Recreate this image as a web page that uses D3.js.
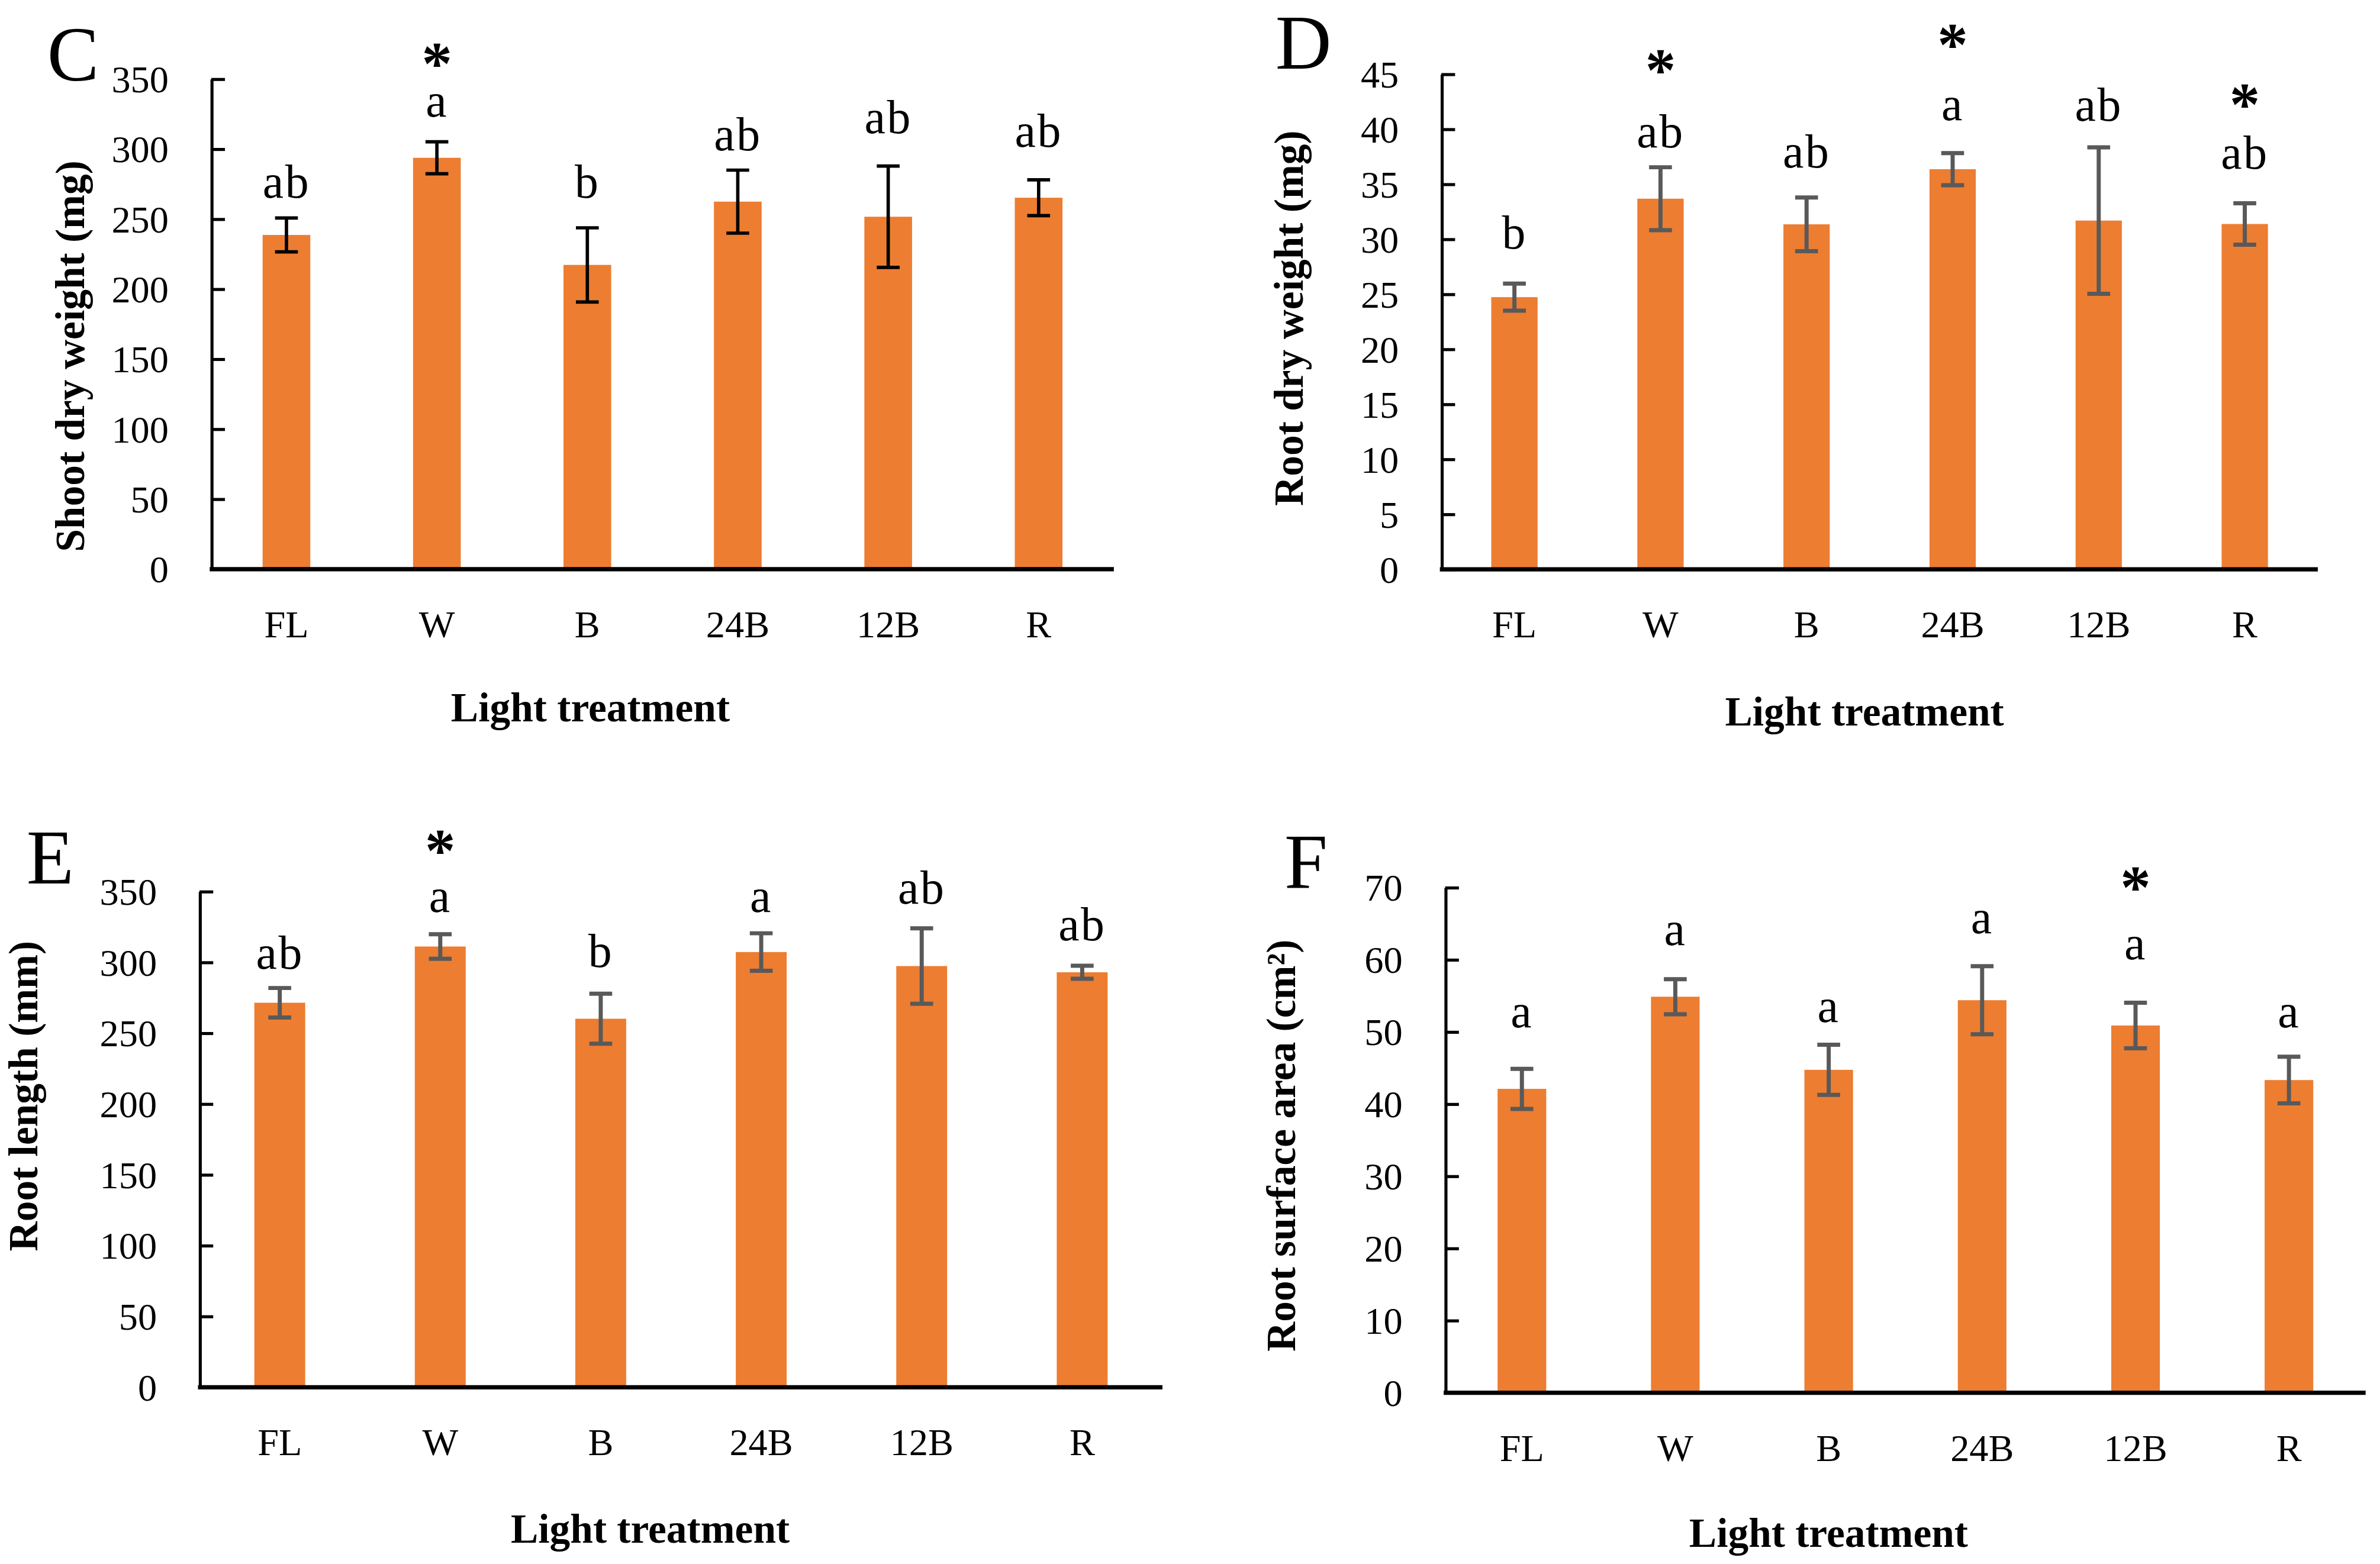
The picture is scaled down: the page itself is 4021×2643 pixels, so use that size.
<!DOCTYPE html>
<html>
<head>
<meta charset="utf-8">
<script src="https://cdn.jsdelivr.net/npm/d3@7"></script>
<style>
  body { margin: 0; background: #fff; }
  svg { display: block; }
</style>
</head>
<body>
<div id="chart"></div>
<script>
// categories shared by all four panels
var categories = ["FL", "W", "B", "24B", "12B", "R"];

// C - shoot dry weight (mg)
var shootMean = [238.4, 293.5, 217.0, 262.2, 251.4, 265.0];
var shootErr = [12.1, 11.4, 26.5, 22.5, 36.2, 12.8];
var shootLetters = ["ab", "a", "b", "ab", "ab", "ab"];
var shootLetterAt = [265, 323, 265, 299, 311, 301.6];
var shootStarAt = [null, 367, null, null, null, null];
var shootTicks = [0, 50, 100, 150, 200, 250, 300, 350];

// D - root dry weight (mg)
var rootDwMean = [24.7, 33.65, 31.32, 36.33, 31.66, 31.35];
var rootDwErr = [1.23, 2.86, 2.44, 1.46, 6.66, 1.88];
var rootDwLetters = ["b", "ab", "ab", "a", "ab", "ab"];
var rootDwLetterAt = [29.1, 38.3, 36.5, 40.8, 40.75, 36.4];
var rootDwStarAt = [null, 46.1, null, 48.4, null, 43.0];
var rootDwTicks = [0, 5, 10, 15, 20, 25, 30, 35, 40, 45];

// E - root length (mm)
var rootLenMean = [271.2, 310.9, 259.9, 307.0, 297.1, 292.7];
var rootLenErr = [10.4, 8.65, 17.65, 13.25, 26.65, 4.6];
var rootLenLetters = ["ab", "a", "b", "a", "ab", "ab"];
var rootLenLetterAt = [295.2, 335.2, 296.3, 335.2, 341.2, 315.3];
var rootLenStarAt = [null, 384.6, null, null, null, null];
var rootLenTicks = [0, 50, 100, 150, 200, 250, 300, 350];

// F - root surface area (cm2)
var rootSaMean = [42.05, 54.82, 44.69, 54.34, 50.83, 43.27];
var rootSaErr = [2.78, 2.43, 3.47, 4.72, 3.16, 3.23];
var rootSaLetters = ["a", "a", "a", "a", "a", "a"];
var rootSaLetterAt = [50.6, 62, 51.3, 63.6, 60, 50.6];
var rootSaStarAt = [null, null, null, null, 71.2, null];
var rootSaTicks = [0, 10, 20, 30, 40, 50, 60, 70];

var font = "'Liberation Serif', 'Times New Roman', serif";
var barColour = "#ED7D31";

// layout (in 1563-wide units, scaled up by the viewBox)
var panels = [
    { tag: "C", title: "Shoot dry weight (mg)", mean: shootMean, err: shootErr,
      letters: shootLetters, letterAt: shootLetterAt, starAt: shootStarAt, ticks: shootTicks,
      max: 350, x0: 138.7, x1: 731.5, yTop: 51.7, yZero: 373.6, errColour: "#000", errWidth: 2.2,
      tagX: 31, tagY: 53, titleX: 55, titleY: 234, xTitleX: 387.7, xTitleY: 474 },
    { tag: "D", title: "Root dry weight (mg)", mean: rootDwMean, err: rootDwErr,
      letters: rootDwLetters, letterAt: rootDwLetterAt, starAt: rootDwStarAt, ticks: rootDwTicks,
      max: 45, x0: 946.6, x1: 1522.2, yTop: 48.5, yZero: 373.7, errColour: "#595959", errWidth: 2.7,
      tagX: 837.6, tagY: 45.2, titleX: 855.6, titleY: 209, xTitleX: 1224.5, xTitleY: 476.5 },
    { tag: "E", title: "Root length (mm)", mean: rootLenMean, err: rootLenErr,
      letters: rootLenLetters, letterAt: rootLenLetterAt, starAt: rootLenStarAt, ticks: rootLenTicks,
      max: 350, x0: 131, x1: 763.4, yTop: 585.4, yZero: 911, errColour: "#595959", errWidth: 2.7,
      tagX: 17.4, tagY: 580.5, titleX: 24.5, titleY: 720, xTitleX: 427, xTitleY: 1013.5 },
    { tag: "F", title: "Root surface area (cm²)", mean: rootSaMean, err: rootSaErr,
      letters: rootSaLetters, letterAt: rootSaLetterAt, starAt: rootSaStarAt, ticks: rootSaTicks,
      max: 70, x0: 949.1, x1: 1553.6, yTop: 582.8, yZero: 914.6, errColour: "#595959", errWidth: 2.7,
      tagX: 843.5, tagY: 583, titleX: 850.6, titleY: 752.5, xTitleX: 1200.9, xTitleY: 1016 }
];

var svg = d3.select("#chart")
    .append("svg")
    .attr("width", 4021)
    .attr("height", 2643)
    .attr("viewBox", "0 0 1563 1027.4")
    .style("background", "#fff");

function draw_panel(p) {
    var g = svg.append("g");
    var rows = categories.map(function (c, i) {
        return { cat: c, mean: p.mean[i], err: p.err[i], letter: p.letters[i],
                 letterAt: p.letterAt[i], starAt: p.starAt[i] };
    });

    var x = d3.scaleBand()
        .domain(categories)
        .range([p.x0, p.x1])
        .paddingInner(0.683)
        .paddingOuter(0.3415);

    var y = d3.scaleLinear()
        .domain([0, p.max])
        .range([p.yZero, p.yTop]);

    // bars
    g.selectAll(".bar")
        .data(rows)
        .enter()
        .append("rect")
        .attr("class", "bar")
        .attr("x", function (d) { return x(d.cat); })
        .attr("y", function (d) { return y(d.mean); })
        .attr("width", x.bandwidth())
        .attr("height", function (d) { return y(0) - y(d.mean); })
        .style("fill", barColour);

    // error bars
    var eb = g.selectAll(".err")
        .data(rows)
        .enter()
        .append("g")
        .attr("class", "err")
        .attr("transform", function (d) { return "translate(" + (x(d.cat) + x.bandwidth() / 2) + ",0)"; })
        .style("stroke", p.errColour)
        .style("stroke-width", p.errWidth)
        .style("fill", "none");
    eb.append("line")
        .attr("x1", 0).attr("x2", 0)
        .attr("y1", function (d) { return y(d.mean + d.err); })
        .attr("y2", function (d) { return y(d.mean - d.err); });
    eb.append("line")
        .attr("x1", -7.5).attr("x2", 7.5)
        .attr("y1", function (d) { return y(d.mean + d.err); })
        .attr("y2", function (d) { return y(d.mean + d.err); });
    eb.append("line")
        .attr("x1", -7.5).attr("x2", 7.5)
        .attr("y1", function (d) { return y(d.mean - d.err); })
        .attr("y2", function (d) { return y(d.mean - d.err); });

    // y axis, ticks pointing inwards
    var yAxis = g.append("g")
        .attr("transform", "translate(" + p.x0 + ",0)")
        .call(d3.axisLeft(y)
            .tickValues(p.ticks)
            .tickFormat(d3.format("d"))
            .tickSizeInner(-9)
            .tickSizeOuter(0)
            .tickPadding(28));
    yAxis.select(".domain").style("stroke", "#000").style("stroke-width", 2);
    yAxis.selectAll(".tick line").style("stroke", "#000").style("stroke-width", 2);
    yAxis.selectAll(".tick text")
        .attr("dy", "0.34em")
        .style("font-family", font)
        .style("font-size", "25px")
        .style("fill", "#000");

    // x axis line
    g.append("line")
        .attr("x1", p.x0 - 1)
        .attr("x2", p.x1)
        .attr("y1", y(0) + 0.3)
        .attr("y2", y(0) + 0.3)
        .style("stroke", "#000")
        .style("stroke-width", 2.8);

    // category labels
    g.selectAll(".cat")
        .data(categories)
        .enter()
        .append("text")
        .attr("x", function (d) { return x(d) + x.bandwidth() / 2; })
        .attr("y", p.yZero + 45)
        .attr("text-anchor", "middle")
        .style("font-family", font)
        .style("font-size", "25px")
        .text(function (d) { return d; });

    // significance letters
    g.selectAll(".letter")
        .data(rows)
        .enter()
        .append("text")
        .attr("x", function (d) { return x(d.cat) + x.bandwidth() / 2; })
        .attr("y", function (d) { return y(d.letterAt); })
        .attr("text-anchor", "middle")
        .style("font-family", font)
        .style("font-size", "31px")
        .style("letter-spacing", "1px")
        .text(function (d) { return d.letter; });

    // asterisks
    g.selectAll(".star")
        .data(rows.filter(function (d) { return d.starAt != null; }))
        .enter()
        .append("text")
        .attr("x", function (d) { return x(d.cat) + x.bandwidth() / 2; })
        .attr("y", function (d) { return y(d.starAt) + 19; })
        .attr("text-anchor", "middle")
        .style("font-family", font)
        .style("font-weight", "bold")
        .style("font-size", "40px")
        .text("*");

    // panel tag
    g.append("text")
        .attr("x", p.tagX)
        .attr("y", p.tagY)
        .style("font-family", font)
        .style("font-size", "51px")
        .text(p.tag);

    // y title
    g.append("text")
        .attr("transform", "translate(" + p.titleX + "," + p.titleY + ") rotate(-90)")
        .attr("text-anchor", "middle")
        .style("font-family", font)
        .style("font-weight", "bold")
        .style("font-size", "27px")
        .text(p.title);

    // x title
    g.append("text")
        .attr("x", p.xTitleX)
        .attr("y", p.xTitleY)
        .attr("text-anchor", "middle")
        .style("font-family", font)
        .style("font-weight", "bold")
        .style("font-size", "27px")
        .text("Light treatment");
}

panels.forEach(draw_panel);
</script>
</body>
</html>
